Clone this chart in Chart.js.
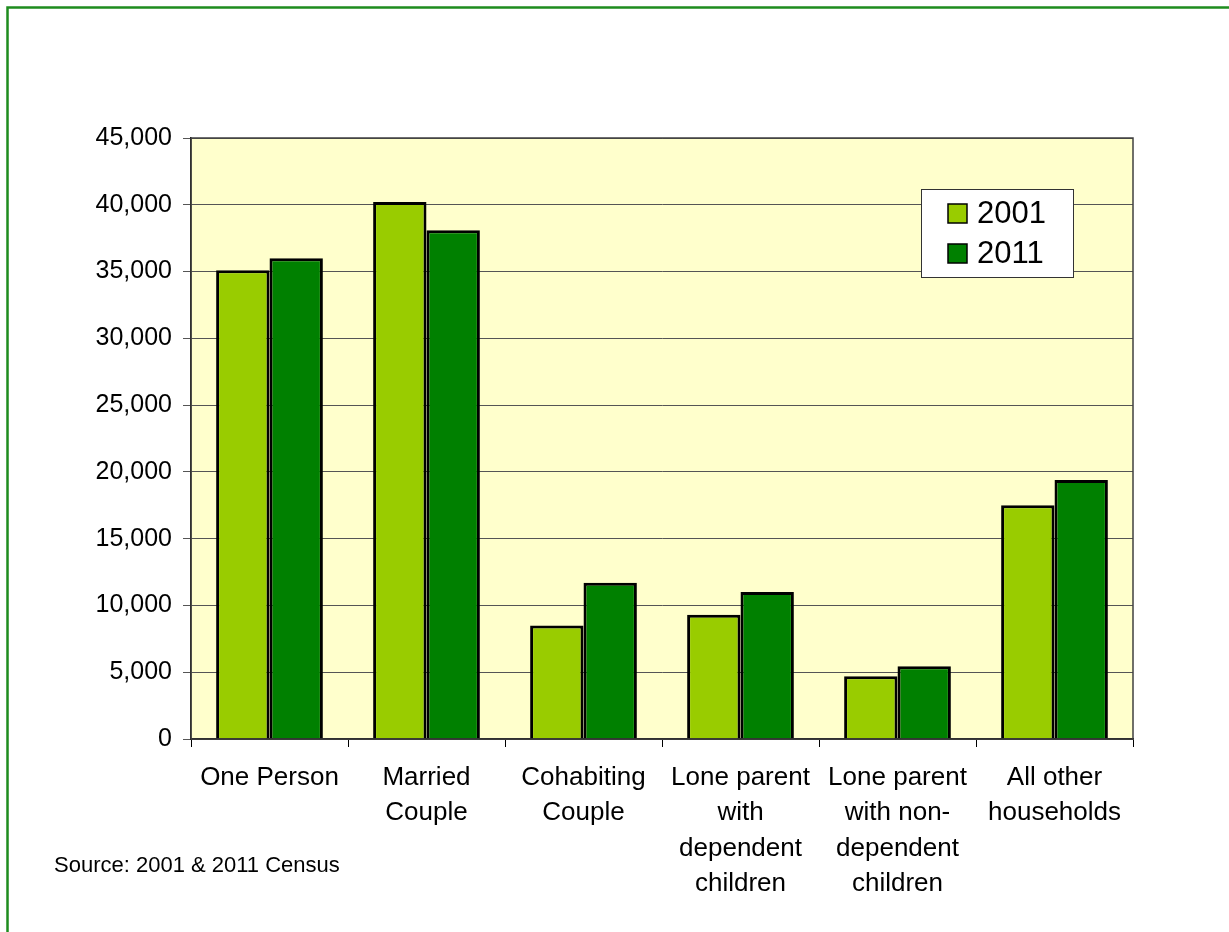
<!DOCTYPE html>
<html>
<head>
<meta charset="utf-8">
<script src="https://cdn.jsdelivr.net/npm/chart.js@4/dist/chart.umd.min.js"></script>
<style>
  body { margin: 0; background: #fff; }
</style>
</head>
<body>
<canvas id="chart" width="1229" height="932"></canvas>
<script>
// --- DATI ---
const CATEGORIES = [
  "One Person",
  ["Married", "Couple"],
  ["Cohabiting", "Couple"],
  ["Lone parent", "with", "dependent", "children"],
  ["Lone parent", "with non-", "dependent", "children"],
  ["All other", "households"],
];
const SERIES_LABELS = ["2001", "2011"];
const VALUES_2001 = [35100, 40200, 8500, 9300, 4700, 17500];
const VALUES_2011 = [36000, 38100, 11700, 11000, 5450, 19400];
const Y_MAX = 45000;
const Y_STEP = 5000;
const SOURCE_NOTE = "Source: 2001 & 2011 Census";

// --- COLORI ---
const COLORS = {
  light: "#99CC00",
  dark: "#008000",
  plotBg: "#FFFFCC",
  frame: "#1E8C1E",
  grid: "#555555",
};

const FONT = "'Liberation Sans', Arial, sans-serif";

// Sfondo area, cornice, legenda e nota
const decorations = {
  id: "decorations",
  beforeDraw(chart) {
    const { ctx, chartArea: a } = chart;
    ctx.save();
    ctx.fillStyle = COLORS.plotBg;
    ctx.fillRect(a.left, a.top, a.right - a.left, a.bottom - a.top);
    ctx.restore();
  },
  afterDraw(chart) {
    const { ctx, chartArea: a } = chart;
    ctx.save();
    // bordo area
    ctx.strokeStyle = "#404040";
    ctx.lineWidth = 1.5;
    ctx.strokeRect(a.left, a.top, a.right - a.left, a.bottom - a.top);

    // cornice verde
    ctx.strokeStyle = COLORS.frame;
    ctx.lineWidth = 2.5;
    ctx.strokeRect(7.5, 7.5, 1300, 1000);

    // legenda
    ctx.fillStyle = "#fff";
    ctx.fillRect(921, 189, 152, 88);
    ctx.strokeStyle = "#333";
    ctx.lineWidth = 1;
    ctx.strokeRect(921.5, 189.5, 152, 88);
    ctx.font = "31px " + FONT;
    ctx.textBaseline = "middle";
    chart.data.datasets.forEach((ds, i) => {
      const y = 213 + i * 40;
      ctx.fillStyle = ds.backgroundColor;
      ctx.fillRect(948, y - 9, 19, 19);
      ctx.strokeStyle = "#000";
      ctx.lineWidth = 1.5;
      ctx.strokeRect(948, y - 9, 19, 19);
      ctx.fillStyle = "#000";
      ctx.fillText(ds.label, 977, y + 1);
    });

    // nota fonte
    ctx.font = "22px " + FONT;
    ctx.fillStyle = "#000";
    ctx.fillText(SOURCE_NOTE, 54, 866);
    ctx.restore();
  },
};

new Chart(document.getElementById("chart"), {
  type: "bar",
  data: {
    labels: CATEGORIES,
    datasets: [
      {
        label: SERIES_LABELS[0],
        data: VALUES_2001,
        backgroundColor: COLORS.light,
        borderColor: "#000",
        borderWidth: 3,
      },
      {
        label: SERIES_LABELS[1],
        data: VALUES_2011,
        backgroundColor: COLORS.dark,
        borderColor: "#000",
        borderWidth: 3,
      },
    ],
  },
  options: {
    responsive: false,
    animation: false,
    devicePixelRatio: 1,
    layout: { padding: { left: 10, top: 138, right: 96, bottom: 0 } },
    datasets: { bar: { categoryPercentage: 0.68, barPercentage: 1 } },
    plugins: {
      legend: { display: false },
      tooltip: { enabled: false },
    },
    scales: {
      x: {
        afterFit: (s) => { s.height = 193; },
        grid: { drawOnChartArea: false, tickLength: 8, color: "#000", offset: true },
        border: { color: "#000", width: 1.5 },
        ticks: {
          color: "#000",
          padding: 13,
          maxRotation: 0,
          autoSkip: false,
          font: { family: FONT, size: 26, lineHeight: 1.36 },
        },
      },
      y: {
        min: 0,
        max: Y_MAX,
        afterFit: (s) => { s.width = 181; },
        grid: { color: COLORS.grid, tickLength: 8, lineWidth: 1 },
        border: { color: "#000", width: 1.5 },
        ticks: {
          stepSize: Y_STEP,
          color: "#000",
          padding: 11,
          font: { family: FONT, size: 25 },
          callback: (v) => v.toLocaleString("en-US"),
        },
      },
    },
  },
  plugins: [decorations],
});
</script>
</body>
</html>
